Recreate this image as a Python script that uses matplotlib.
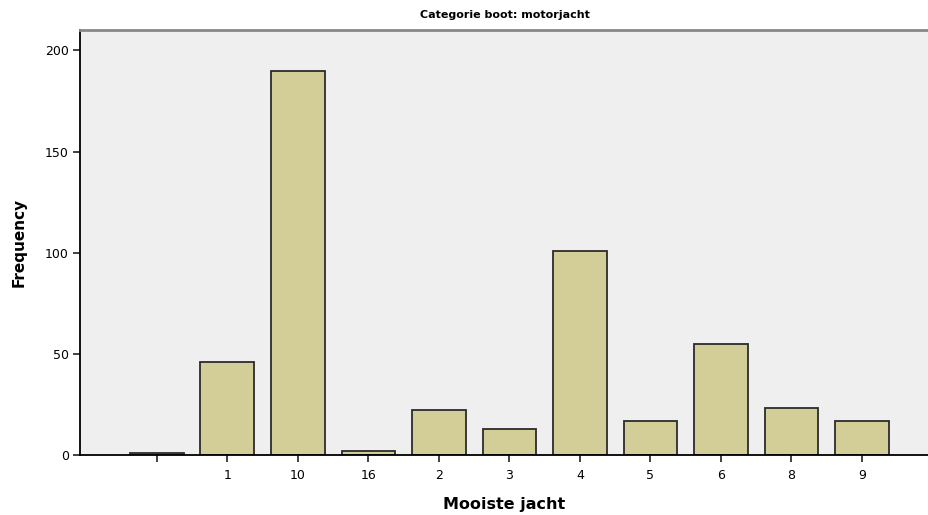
import matplotlib.pyplot as plt
import numpy as np

# Frequencies per category (first category is blank)
categories = ['', '1', '10', '16', '2', '3', '4', '5', '6', '8', '9']
frequency = [1, 46, 190, 2, 22, 13, 101, 17, 55, 23, 17]

fig = plt.figure(figsize=(9.29, 5.15), dpi=100)
ax = fig.add_axes([0.086, 0.1165, 0.914, 0.825])
ax.set_facecolor('#efefef')

x = np.arange(len(categories))
ax.bar(x, frequency, width=0.76, color='#d3ce97', edgecolor='#2b2b2b', linewidth=1.3)

ax.set_xlim(-1.09, 10.95)
ax.set_ylim(0, 210)
ax.set_xticks(x)
ax.set_xticklabels(categories, fontsize=9)
ax.set_yticks([0, 50, 100, 150, 200])
ax.set_yticklabels(['0', '50', '100', '150', '200'], fontsize=9)
ax.tick_params(axis='both', direction='out', length=5, width=1.3, color='#333333', pad=3)
ax.tick_params(axis='x', pad=5)

ax.spines['right'].set_visible(False)
ax.spines['top'].set_color('#888888')
ax.spines['top'].set_linewidth(2)
ax.spines['left'].set_linewidth(1.3)
ax.spines['bottom'].set_linewidth(1.3)

ax.set_xlabel('Mooiste jacht', fontsize=11.5, fontweight='bold', labelpad=11)
ax.set_ylabel('Frequency', fontsize=11, fontweight='bold', labelpad=13)
ax.set_title('Categorie boot: motorjacht', fontsize=8, fontweight='bold', pad=9)

plt.savefig('out.png', dpi=100)
